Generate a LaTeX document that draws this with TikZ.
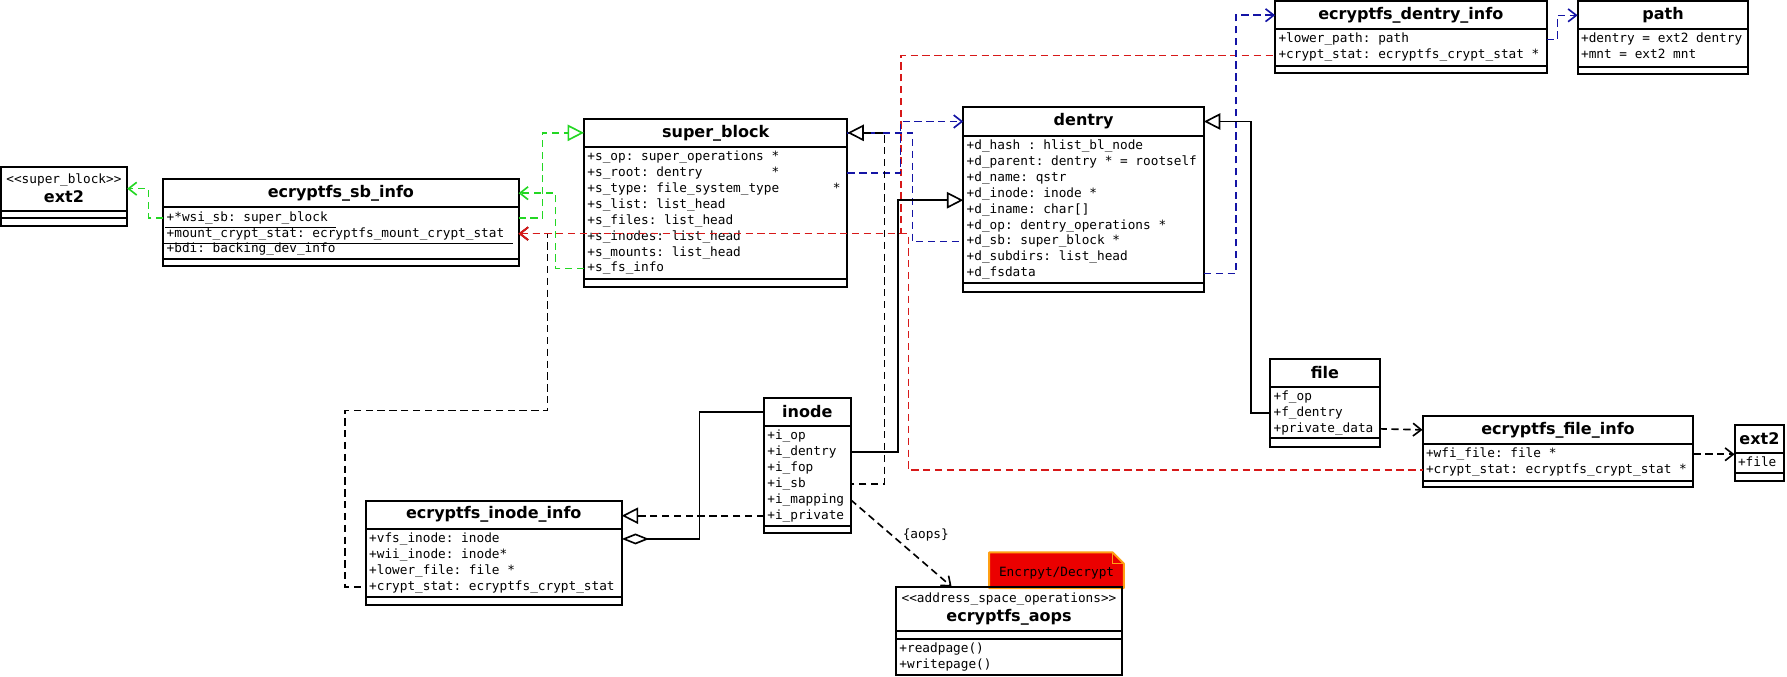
\documentclass[tikz,border=0pt]{standalone}
\usepackage{fontspec}
\setsansfont{DejaVu Sans}
\setmonofont{DejaVu Sans Mono}
\usepackage{tikz}
\usetikzlibrary{arrows.meta,positioning,calc,backgrounds}
\definecolor{umlgreen}{RGB}{35,215,35}
\definecolor{umlred}{RGB}{215,25,25}
\definecolor{umlblue}{RGB}{20,20,165}
\definecolor{notered}{RGB}{235,0,0}
\definecolor{noteorange}{RGB}{255,160,20}
\newcommand{\pxu}{0.022cm}
\newcommand{\stereo}[1]{{\ttfamily\mdseries\fontsize{7}{8}\selectfont #1}}

\begin{document}
\begin{tikzpicture}[x=0.022cm, y=-0.022cm,
    box/.style={
        draw,
        line width=1.1pt,
        inner sep=0pt,
        outer sep=0pt
    },
    head/.style={
        box,
        anchor=north west,
        align=center,
        font=\sffamily\bfseries\fontsize{8.8}{10.5}\selectfont
    },
    attr/.style={
        anchor=west,
        inner xsep=1.7pt,
        inner ysep=0pt,
        text height=5.2pt,
        text depth=1.5pt,
        font=\ttfamily\fontsize{7}{8}\selectfont
    },
    conn/.style={
        line width=0.9pt
    },
    dsh/.style={
        dash pattern=on 4pt off 2.5pt
    },
    dep/.style={
        -{Straight Barb[length=4.5pt,width=7pt]}
    },
    revdep/.style={
        {Straight Barb[length=4.5pt,width=7pt]}-
    },
    gen/.style={
        -{Triangle[length=9pt,width=9pt,fill=white]}
    },
    revgen/.style={
        {Triangle[length=9pt,width=9pt,fill=white]}-
    },
    agg/.style={
        -{Diamond[length=15pt,width=6pt,fill=white]}
    }
]
\useasboundingbox (0,0) rectangle (1568,594);

% ext2 (lower super block)
\node[head, minimum width=111*\pxu, minimum height=38.7*\pxu] (x2) at (0.6,146.2)
    {\stereo{<<super\_block>>}\\ext2};
\node[box, minimum width=111*\pxu, minimum height=6.7*\pxu, below=0pt of x2] (x2-c) {};
\node[box, minimum width=111*\pxu, minimum height=6.6*\pxu, below=0pt of x2-c] (x2-m) {};

% ecryptfs_sb_info
\node[head, minimum width=311.8*\pxu, minimum height=25*\pxu] (sbi) at (143.2,157)
    {ecryptfs\_sb\_info};
\node[box, minimum width=311.8*\pxu, minimum height=45.4*\pxu, below=0pt of sbi] (sbi-c) {};
\node[box, minimum width=311.8*\pxu, minimum height=6.1*\pxu, below=0pt of sbi-c] (sbi-m) {};
\foreach \txt [count=\rw] in {+*wsi\_sb: super\_block,
    +mount\_crypt\_stat: ecryptfs\_mount\_crypt\_stat,
    +bdi: backing\_dev\_info}
  \node[attr] (sbi-\rw) at ($(sbi-c.north west)+(0,{14*\rw-5})$) {\txt};
\draw[line width=0.6pt] ($(sbi-1.west)+(1.5,8.5)$) -- ++(150,0);
\draw[line width=0.6pt] ($(sbi-2.west)+(0,8.5)$) -- ++(306.5,0);

% super_block
\node[head, minimum width=231.2*\pxu, minimum height=24.3*\pxu] (sb) at (512.4,104.4)
    {super\_block};
\node[box, minimum width=231.2*\pxu, minimum height=116*\pxu, below=0pt of sb] (sb-c) {};
\node[box, minimum width=231.2*\pxu, minimum height=6.7*\pxu, below=0pt of sb-c] (sb-m) {};
\foreach \txt [count=\rw] in {+s\_op: super\_operations *,
    +s\_root: dentry~~~~~~~~~*,
    +s\_type: file\_system\_type~~~~~~~*,
    +s\_list: list\_head, +s\_files: list\_head, +s\_inodes: list\_head,
    +s\_mounts: list\_head, +s\_fs\_info}
  \node[attr] (sb-\rw) at ($(sb-c.north west)+(0,{14*\rw-5})$) {\txt};

% dentry
\node[head, minimum width=211.2*\pxu, minimum height=24.8*\pxu] (de) at (845.2,94.2)
    {dentry};
\node[box, minimum width=211.2*\pxu, minimum height=129.6*\pxu, below=0pt of de] (de-c) {};
\node[box, minimum width=211.2*\pxu, minimum height=7.4*\pxu, below=0pt of de-c] (de-m) {};
\foreach \txt [count=\rw] in {+d\_hash : hlist\_bl\_node,
    +d\_parent: dentry * = rootself, +d\_name: qstr, +d\_inode: inode *,
    +d\_iname: char[], +d\_op: dentry\_operations *, +d\_sb: super\_block *,
    +d\_subdirs: list\_head, +d\_fsdata}
  \node[attr] (de-\rw) at ($(de-c.north west)+(0,{14*\rw-5})$) {\txt};

% ecryptfs_dentry_info
\node[head, minimum width=238.3*\pxu, minimum height=24.7*\pxu] (di) at (1118.8,1)
    {ecryptfs\_dentry\_info};
\node[box, minimum width=238.3*\pxu, minimum height=31.9*\pxu, below=0pt of di] (di-c) {};
\node[box, minimum width=238.3*\pxu, minimum height=6.2*\pxu, below=0pt of di-c] (di-m) {};
\foreach \txt [count=\rw] in {+lower\_path: path,
    +crypt\_stat: ecryptfs\_crypt\_stat *}
  \node[attr] (di-\rw) at ($(di-c.north west)+(0,{14*\rw-5})$) {\txt};

% path
\node[head, minimum width=149.8*\pxu, minimum height=24.5*\pxu] (pa) at (1384.3,1.2)
    {path};
\node[box, minimum width=149.8*\pxu, minimum height=32.8*\pxu, below=0pt of pa] (pa-c) {};
\node[box, minimum width=149.8*\pxu, minimum height=6*\pxu, below=0pt of pa-c] (pa-m) {};
\foreach \txt [count=\rw] in {+dentry = ext2 dentry, +mnt = ext2 mnt}
  \node[attr] (pa-\rw) at ($(pa-c.north west)+(0,{14*\rw-5})$) {\txt};

% file
\node[head, minimum width=96*\pxu, minimum height=24.3*\pxu] (fl) at (1114.5,315)
    {file};
\node[box, minimum width=96*\pxu, minimum height=45.3*\pxu, below=0pt of fl] (fl-c) {};
\node[box, minimum width=96*\pxu, minimum height=7.3*\pxu, below=0pt of fl-c] (fl-m) {};
\foreach \txt [count=\rw] in {+f\_op, +f\_dentry, +private\_data}
  \node[attr] (fl-\rw) at ($(fl-c.north west)+(0,{14*\rw-5})$) {\txt};

% ecryptfs_file_info
\node[head, minimum width=237.7*\pxu, minimum height=24.9*\pxu] (fi) at (1248.2,364.7)
    {ecryptfs\_file\_info};
\node[box, minimum width=237.7*\pxu, minimum height=32.2*\pxu, below=0pt of fi] (fi-c) {};
\node[box, minimum width=237.7*\pxu, minimum height=5.8*\pxu, below=0pt of fi-c] (fi-m) {};
\foreach \txt [count=\rw] in {+wfi\_file: file *,
    +crypt\_stat: ecryptfs\_crypt\_stat *}
  \node[attr] (fi-\rw) at ($(fi-c.north west)+(0,{14*\rw-5})$) {\txt};

% ext2 (lower file)
\node[head, minimum width=43.6*\pxu, minimum height=24.6*\pxu] (xr) at (1522,372.6)
    {ext2};
\node[box, minimum width=43.6*\pxu, minimum height=17.5*\pxu, below=0pt of xr] (xr-c) {};
\node[box, minimum width=43.6*\pxu, minimum height=7.3*\pxu, below=0pt of xr-c] (xr-m) {};
\node[attr] (xr-1) at ($(xr-c.north west)+(0,9)$) {+file};

% inode
\node[head, minimum width=76.1*\pxu, minimum height=24*\pxu] (ino) at (670.3,349.5)
    {inode};
\node[box, minimum width=76.1*\pxu, minimum height=87.7*\pxu, below=0pt of ino] (ino-c) {};
\node[box, minimum width=76.1*\pxu, minimum height=6.8*\pxu, below=0pt of ino-c] (ino-m) {};
\foreach \txt [count=\rw] in {+i\_op, +i\_dentry, +i\_fop, +i\_sb,
    +i\_mapping, +i\_private}
  \node[attr] (ino-\rw) at ($(ino-c.north west)+(0,{14*\rw-5})$) {\txt};

% ecryptfs_inode_info
\node[head, minimum width=224.7*\pxu, minimum height=24.6*\pxu] (ii) at (320.9,439.3)
    {ecryptfs\_inode\_info};
\node[box, minimum width=224.7*\pxu, minimum height=59.7*\pxu, below=0pt of ii] (ii-c) {};
\node[box, minimum width=224.7*\pxu, minimum height=7.3*\pxu, below=0pt of ii-c] (ii-m) {};
\foreach \txt [count=\rw] in {+vfs\_inode: inode, +wii\_inode: inode*,
    +lower\_file: file *, +crypt\_stat: ecryptfs\_crypt\_stat}
  \node[attr] (ii-\rw) at ($(ii-c.north west)+(0,{14*\rw-5})$) {\txt};

% ecryptfs_aops
\node[head, minimum width=198.3*\pxu, minimum height=38.9*\pxu] (ao) at (786.2,514.8)
    {\stereo{<<address\_space\_operations>>}\\ecryptfs\_aops};
\node[box, minimum width=198.3*\pxu, minimum height=6.7*\pxu, below=0pt of ao] (ao-c) {};
\node[box, minimum width=198.3*\pxu, minimum height=31.9*\pxu, below=0pt of ao-c] (ao-m) {};
\foreach \txt [count=\rw] in {+readpage(), +writepage()}
  \node[attr] (ao-\rw) at ($(ao-m.north west)+(0,{14*\rw-5})$) {\txt};

% note
\node[inner sep=0pt, minimum width=117.5*\pxu, minimum height=30.7*\pxu,
    text height=9pt, text depth=1.5pt,
    anchor=north west, font=\ttfamily\fontsize{7}{8}\selectfont]
    (nt) at (868,484.6) {Encrpyt/Decrypt};
\begin{scope}[on background layer]
\filldraw[fill=notered, draw=noteorange, line width=1.1pt, line join=round]
    (nt.south west) -- (nt.north west) -- ($(nt.north east)+(-10,0)$)
    -- ($(nt.north east)+(0,10)$) -- (nt.south east) -- cycle;
\draw[noteorange, line width=0.8pt]
    ($(nt.north east)+(-10,0)$) -- ($(nt.north east)+(-10,10)$)
    -- ($(nt.north east)+(0,10)$);
\end{scope}

% connectors
\draw[conn, dsh, dep, umlgreen] (sbi-1.west) -- ++(-13,0) |- (x2.east);
\draw[conn, dsh, gen, umlgreen] (sbi-1.west -| sbi.east) -- ++(21,0) |- (sb.west);
\draw[conn, dsh, dep, umlgreen] (sb-8.west) -- ++(-25,0) |- (sbi.east);

% drawn from the shared end so the dashes line up
\draw[conn, dsh, revdep] (sbi-2.west -| sbi.east) -- ++(25.5,0) -- ++(0,155.3)
    -- ++(-177.8,0) |- (ii-4.west);
\draw[conn, dsh, revdep, umlred] (sbi-2.west -| sbi.east) -- ++(335.5,0) |- (di-2.west);
\draw[conn, dsh, revdep, umlred] (sbi-2.west -| sbi.east) -- ++(342,0) |- (fi-2.west);

\draw[conn, dsh, dep, umlblue] (sb-2.west -| sb.east) -- ++(46.5,0) |- (de.west);
\draw[conn, dsh, umlblue] (sb.east) -- ++(57,0) |- (de-7.west);
\draw[conn, dsh, dep, umlblue] (de-9.west -| de.east) -- ++(28,0) |- (di.west);
\draw[conn, dsh, dep, umlblue] (di-1.west -| di.east) -- ++(9.5,0) |- (pa.west);

\draw[conn, dsh, revgen] (sb.east) -- ++(32.6,0) |- (ino-4.west -| ino.east);
\draw[conn, gen] (fl-2.west) -- ++(-16.8,0) |- (de.east);
\draw[conn, gen] (ino-2.west -| ino.east) -- ++(41.8,0) |- (de-4.south west);
\draw[conn, agg] (ino.west) -- ++(-56.4,0) |- (ii-1.west -| ii.east);
\draw[conn, dsh, gen] (ino-6.west) -- (ino-6.west -| ii.east);

\draw[conn, dsh, dep] (fl-3.west -| fl.east) -- (fi.west);
\draw[conn, dsh, dep] (fi-1.west -| fi.east) -- (fi-1.west -| xr.west);
\draw[conn, dsh, dep] (ino-5.west -| ino.east) -- ($(ao.north west)+(48.8,0)$)
    node[pos=0.4, anchor=west, xshift=5pt, inner sep=1pt,
        font=\ttfamily\fontsize{7}{8}\selectfont] {\{aops\}};
\end{tikzpicture}
\end{document}
